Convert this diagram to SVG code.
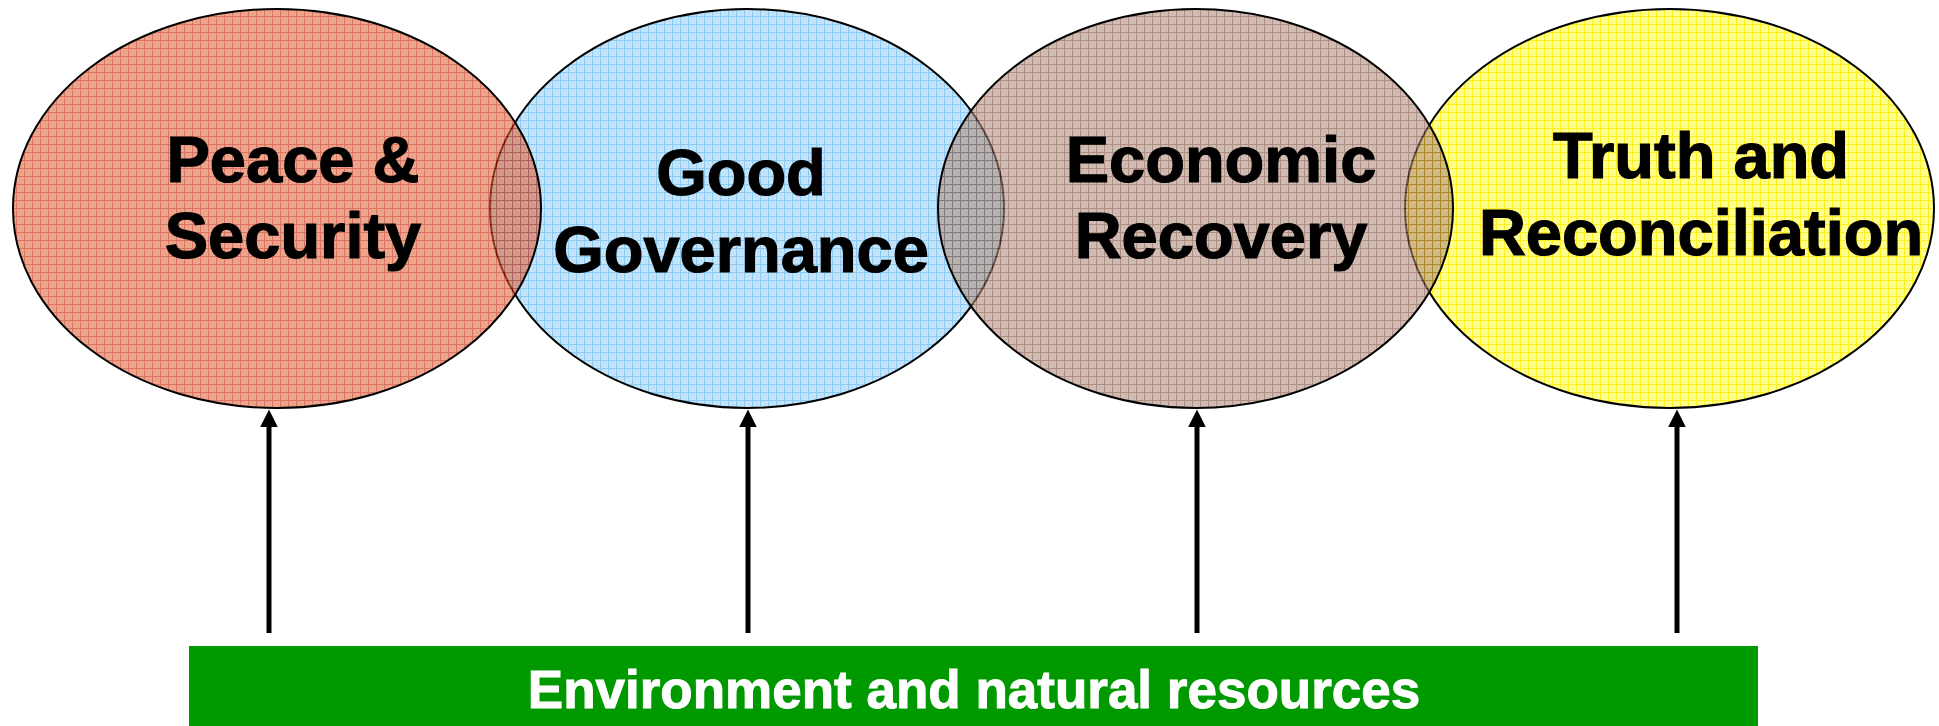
<svg xmlns="http://www.w3.org/2000/svg" width="1939" height="726" viewBox="0 0 1939 726">
<style>
.lbl{font-family:"Liberation Sans",Arial,sans-serif;font-weight:bold;font-size:65px;fill:#000;stroke:#000;stroke-width:1.2;text-anchor:middle}
.bar-lbl{font-family:"Liberation Sans",Arial,sans-serif;font-weight:bold;font-size:53px;fill:#fff;stroke:#fff;stroke-width:1;text-anchor:middle}
.ell{stroke:#000;stroke-width:2}
.top{fill-opacity:0.6}
.conn{stroke:#000;stroke-width:5;fill:none}
</style>
<defs>
<pattern id="pRed" width="8" height="8" patternUnits="userSpaceOnUse">
<rect width="8" height="8" fill="#e16a3e"/>
<rect x="1" y="1" width="1" height="1" fill="#d9552a"/><rect x="3" y="3" width="1" height="1" fill="#d9552a"/><rect x="5" y="5" width="1" height="1" fill="#d9552a"/><rect x="3" y="1" width="1" height="1" fill="#d9552a"/><rect x="5" y="3" width="1" height="1" fill="#d9552a"/><rect x="1" y="5" width="1" height="1" fill="#d9552a"/>
<rect width="8" height="1" fill="#c41800"/><rect width="1" height="8" fill="#c41800"/>
</pattern>
<pattern id="pBlue" width="8" height="8" patternUnits="userSpaceOnUse">
<rect width="8" height="8" fill="#c3e4fa"/>
<rect x="1" y="1" width="1" height="1" fill="#b3dcf7"/><rect x="3" y="3" width="1" height="1" fill="#b3dcf7"/><rect x="5" y="5" width="1" height="1" fill="#b3dcf7"/><rect x="3" y="1" width="1" height="1" fill="#b3dcf7"/><rect x="5" y="3" width="1" height="1" fill="#b3dcf7"/><rect x="1" y="5" width="1" height="1" fill="#b3dcf7"/>
<rect width="8" height="1" fill="#8ccbf3"/><rect width="1" height="8" fill="#8ccbf3"/>
</pattern>
<pattern id="pBrown" width="8" height="8" patternUnits="userSpaceOnUse">
<rect width="8" height="8" fill="#b0907e"/>
<rect x="1" y="1" width="1" height="1" fill="#a4846f"/><rect x="3" y="3" width="1" height="1" fill="#a4846f"/><rect x="5" y="5" width="1" height="1" fill="#a4846f"/><rect x="3" y="1" width="1" height="1" fill="#a4846f"/><rect x="5" y="3" width="1" height="1" fill="#a4846f"/><rect x="1" y="5" width="1" height="1" fill="#a4846f"/>
<rect width="8" height="1" fill="#7a4430"/><rect width="1" height="8" fill="#7a4430"/>
</pattern>
<pattern id="pYellow" width="8" height="8" patternUnits="userSpaceOnUse">
<rect width="8" height="8" fill="#ffff8c"/>
<rect x="1" y="1" width="1" height="1" fill="#ffff70"/><rect x="3" y="3" width="1" height="1" fill="#ffff70"/><rect x="5" y="5" width="1" height="1" fill="#ffff70"/><rect x="3" y="1" width="1" height="1" fill="#ffff70"/><rect x="5" y="3" width="1" height="1" fill="#ffff70"/><rect x="1" y="5" width="1" height="1" fill="#ffff70"/>
<rect width="8" height="1" fill="#ffee22"/><rect width="1" height="8" fill="#ffee22"/>
</pattern>
<marker id="arrow" markerUnits="userSpaceOnUse" markerWidth="18" markerHeight="18" viewBox="0 0 17 17" refX="7" refY="8.5" orient="auto">
<path d="M0,0 L17,8.5 L0,17 z" fill="#000"/>
</marker>
</defs>
<rect width="1939" height="726" fill="#fff"/>
<g id="node-good-governance">
<ellipse class="ell" cx="747" cy="208.5" rx="257" ry="199.5" fill="url(#pBlue)"/>
<text class="lbl" x="741" y="195">Good</text>
<text class="lbl" x="741" y="272">Governance</text>
</g>
<g id="node-truth-reconciliation">
<ellipse class="ell" cx="1669.5" cy="208.5" rx="264.5" ry="199.5" fill="url(#pYellow)"/>
<text class="lbl" x="1701" y="178">Truth and</text>
<text class="lbl" x="1701" y="255">Reconciliation</text>
</g>
<g id="node-peace-security">
<ellipse class="ell top" cx="277" cy="208.5" rx="264" ry="199.5" fill="url(#pRed)"/>
<text class="lbl" x="293" y="182">Peace &amp;</text>
<text class="lbl" x="293" y="258">Security</text>
</g>
<g id="node-economic-recovery">
<ellipse class="ell top" cx="1195.5" cy="208.5" rx="257.5" ry="199.5" fill="url(#pBrown)"/>
<text class="lbl" x="1221" y="182">Economic</text>
<text class="lbl" x="1221" y="258">Recovery</text>
</g>
<g id="node-environment">
<rect x="189" y="646" width="1569" height="80" fill="#009900"/>
<text class="bar-lbl" x="974" y="708">Environment and natural resources</text>
</g>
<g id="connectors">
<line class="conn" x1="269" y1="633" x2="269" y2="420" marker-end="url(#arrow)"/>
<line class="conn" x1="748" y1="633" x2="748" y2="420" marker-end="url(#arrow)"/>
<line class="conn" x1="1197" y1="633" x2="1197" y2="420" marker-end="url(#arrow)"/>
<line class="conn" x1="1677" y1="633" x2="1677" y2="420" marker-end="url(#arrow)"/>
</g>
</svg>
